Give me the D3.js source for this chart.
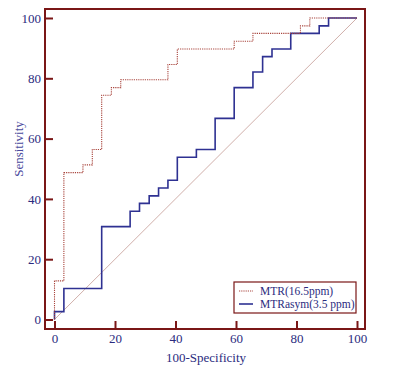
<html>
  <head>
    <meta charset="utf-8" />
    <script src="https://cdnjs.cloudflare.com/ajax/libs/d3/7.6.1/d3.min.js"></script>
    <style>
      body { margin: 0; background: #fff; }
      svg { display: block; }
      text { font-family: "Liberation Serif", "Times New Roman", serif; }
    </style>
  </head>
  <body>
    <svg width="400" height="373"></svg>
  </body>
  <script>
    // ROC corner points (100-specificity, sensitivity), step-wise
    var mtrX = [0, 3.1, 9.4, 12.5, 15.6, 18.8, 21.9, 37.5, 40.6, 59.4, 65.6, 81.3, 84.4, 100];
    var mtrY = [0, 12.8, 48.7, 51.3, 56.4, 74.4, 76.9, 79.5, 84.6, 89.7, 92.3, 94.9, 97.4, 100];
    var asymX = [0, 3.1, 15.6, 25, 28.1, 31.3, 34.4, 37.5, 40.6, 46.9, 53.1, 59.4, 65.6, 68.8, 71.9, 78.1, 87.5, 90.6, 100];
    var asymY = [0, 2.6, 10.3, 30.8, 35.9, 38.5, 41.0, 43.6, 46.2, 53.8, 56.4, 66.7, 76.9, 82.1, 87.2, 89.7, 94.9, 97.4, 100];
    var tickValues = [0, 20, 40, 60, 80, 100];
    var seriesNames = ["MTR(16.5ppm)", "MTRasym(3.5 ppm)"];

    const frameColor = "#7a1616";
    const labelColor = "#2b2b7e";
    const mtrColor = "#a8443c";
    const asymColor = "#2e3192";

    const svg = d3.select("svg");
    const frame = { left: 45, top: 9, right: 365, bottom: 329 };

    const x = d3.scaleLinear().domain([0, 100]).range([54.5, 357]);
    const y = d3.scaleLinear().domain([0, 100]).range([319.5, 18]);

    // diagonal reference
    svg.append("line")
      .attr("x1", x(0)).attr("y1", y(0))
      .attr("x2", x(100)).attr("y2", y(100))
      .attr("stroke", "#c49a94").attr("stroke-width", 0.8);

    const line = d3.line()
      .x((d) => x(d[0]))
      .y((d) => y(d[1]))
      .curve(d3.curveStepBefore);

    svg.append("path")
      .datum(asymX.map((v, i) => [v, asymY[i]]))
      .attr("d", line)
      .attr("fill", "none")
      .attr("stroke", asymColor)
      .attr("stroke-width", 1.6);

    svg.append("path")
      .datum(mtrX.map((v, i) => [v, mtrY[i]]))
      .attr("d", line)
      .attr("fill", "none")
      .attr("stroke", mtrColor)
      .attr("stroke-width", 1.1)
      .attr("stroke-dasharray", "1.2,1");

    // axes with inward ticks
    const minor = d3.range(0, 101, 5);
    const yAxis = d3.axisLeft(y).tickValues(minor).tickSize(-4).tickFormat("");
    const yAxisMaj = d3.axisLeft(y).tickValues(tickValues).tickSize(-8).tickPadding(12);
    const xAxis = d3.axisBottom(x).tickValues(minor).tickSize(-4).tickFormat("");
    const xAxisMaj = d3.axisBottom(x).tickValues(tickValues).tickSize(-8).tickPadding(12);

    const gy = svg.append("g").attr("transform", `translate(${frame.left},0)`);
    gy.call(yAxis);
    gy.call(yAxisMaj);
    const gx = svg.append("g").attr("transform", `translate(0,${frame.bottom})`);
    gx.call(xAxis);
    gx.call(xAxisMaj);

    svg.selectAll(".domain").remove();
    svg.selectAll(".tick line").attr("stroke", frameColor).attr("stroke-width", 2);
    svg.selectAll(".tick text")
      .attr("fill", labelColor)
      .style("font-size", "13px")
      .style("font-family", "Liberation Serif, serif");
    gy.selectAll(".tick text").attr("x", -4);
    gx.selectAll(".tick text").attr("y", 5);

    svg.append("rect")
      .attr("x", frame.left).attr("y", frame.top)
      .attr("width", frame.right - frame.left)
      .attr("height", frame.bottom - frame.top)
      .attr("fill", "none")
      .attr("stroke", frameColor)
      .attr("stroke-width", 2);

    svg.append("text")
      .attr("transform", "translate(23,149) rotate(-90)")
      .attr("text-anchor", "middle")
      .attr("fill", "#4a4a9c")
      .style("font-size", "13px")
      .text("Sensitivity");

    svg.append("text")
      .attr("x", 206).attr("y", 362)
      .attr("text-anchor", "middle")
      .attr("fill", labelColor)
      .style("font-size", "13px")
      .text("100-Specificity");

    // legend
    const lg = svg.append("g").attr("transform", "translate(234,282)");
    lg.append("rect").attr("width", 122).attr("height", 31)
      .attr("fill", "#fff").attr("stroke", frameColor).attr("stroke-width", 1.2);
    const styles = [
      { c: mtrColor, w: 1.1, dash: "1.2,1" },
      { c: asymColor, w: 1.6, dash: null },
    ];
    seriesNames.forEach((name, i) => {
      const yy = 9 + i * 13;
      lg.append("line").attr("x1", 5).attr("x2", 19).attr("y1", yy).attr("y2", yy)
        .attr("stroke", styles[i].c).attr("stroke-width", styles[i].w)
        .attr("stroke-dasharray", styles[i].dash);
      lg.append("text").attr("x", 26).attr("y", yy + 4)
        .attr("fill", labelColor).style("font-size", "11.5px").text(name);
    });
  </script>
</html>
